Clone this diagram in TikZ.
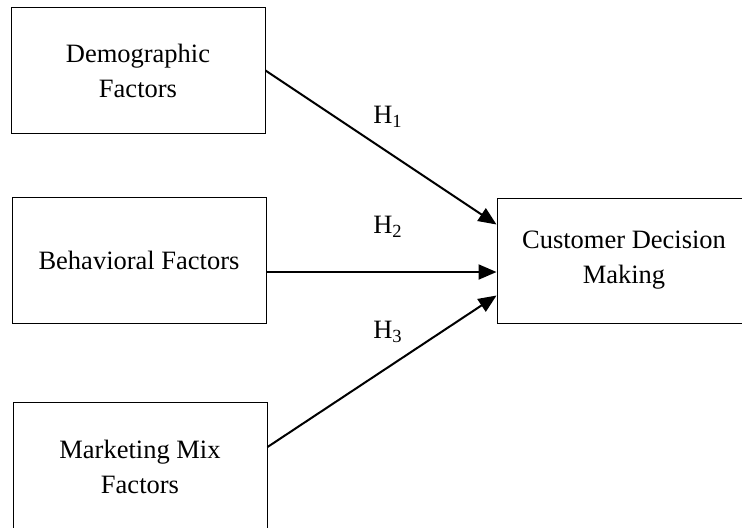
\documentclass[tikz,border=0pt]{standalone}
\usepackage{fontspec}
\setmainfont{Liberation Serif}
\usetikzlibrary{arrows.meta,positioning,calc}

\begin{document}
\begin{tikzpicture}[x=0.5pt,y=-0.5pt,
  factor/.style={draw, rectangle, line width=0.5pt, align=center, inner sep=0pt,
    minimum width=127pt, minimum height=63pt, font=\fontsize{13.25}{17.5}\selectfont},
  hyp/.style={font=\fontsize{13.25}{17.5}\selectfont, inner sep=0pt},
  ptr/.style={-{Triangle[length=9pt,width=7.5pt]}, line width=1pt}
]
\useasboundingbox (0,0) rectangle (742,527);
\clip (0,0) rectangle (742,527);
\node[factor] (demo) at (138,70.5) {Demographic\\Factors};
\node[factor] (behav) at (139,260) {Behavioral Factors};
\node[factor, minimum height=65pt] (mix) at (140,467) {Marketing Mix\\Factors};
\node[factor, minimum height=62.5pt] (cust) at (624,260.5) {Customer Decision\\Making};
\node[hyp] (h1) at (388,117) {H\textsubscript{1}};
\node[hyp] (h2) at (388,227) {H\textsubscript{2}};
\node[hyp] (h3) at (388,332) {H\textsubscript{3}};
\draw[ptr] (demo.east) -- ($(cust.west)+(0,-36)$);
\draw[ptr] ($(behav.east)+(0,12)$) -- ($(cust.west)+(0,11.5)$);
\draw[ptr] ($(mix.east)+(0,-20)$) -- ($(cust.west)+(0,35)$);
\end{tikzpicture}
\end{document}
